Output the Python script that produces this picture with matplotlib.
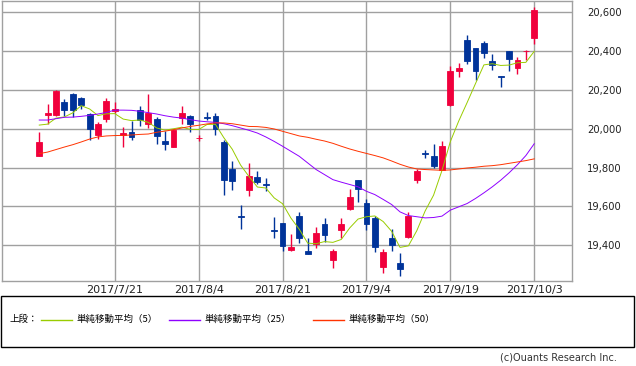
import matplotlib
matplotlib.use("Agg")
import matplotlib.pyplot as plt
from matplotlib.lines import Line2D
from matplotlib.patches import Rectangle
import numpy as np

# -----------------------------
# Data (daily candles, 2017/7/7 - 2017/10/3)
# -----------------------------
dates = [
    "2017/7/7", "2017/7/10", "2017/7/11", "2017/7/12", "2017/7/13", "2017/7/14",
    "2017/7/18", "2017/7/19", "2017/7/20", "2017/7/21", "2017/7/24", "2017/7/25",
    "2017/7/26", "2017/7/27", "2017/7/28", "2017/7/31", "2017/8/1", "2017/8/2",
    "2017/8/3", "2017/8/4", "2017/8/7", "2017/8/8", "2017/8/9", "2017/8/10",
    "2017/8/14", "2017/8/15", "2017/8/16", "2017/8/17", "2017/8/18", "2017/8/21",
    "2017/8/22", "2017/8/23", "2017/8/24", "2017/8/25", "2017/8/28", "2017/8/29",
    "2017/8/30", "2017/8/31", "2017/9/1", "2017/9/4", "2017/9/5", "2017/9/6",
    "2017/9/7", "2017/9/8", "2017/9/11", "2017/9/12", "2017/9/13", "2017/9/14",
    "2017/9/15", "2017/9/19", "2017/9/20", "2017/9/21", "2017/9/22", "2017/9/25",
    "2017/9/26", "2017/9/27", "2017/9/28", "2017/9/29", "2017/10/2", "2017/10/3",
]

opens = [
    19858, 20069, 20072, 20139, 20180, 20160, 20078, 19970, 20048, 20090,
    19968, 19985, 20098, 20026, 20052, 19939, 19908, 20055, 20067, 19952,
    20060, 20067, 19934, 19795, 19550, 19687, 19754, 19713, 19480, 19517,
    19375, 19553, 19372, 19404, 19507, 19324, 19481, 19589, 19738, 19620,
    19538, 19288, 19439, 19307, 19442, 19735, 19875, 19862, 19790, 20122,
    20299, 20458, 20415, 20442, 20350, 20272, 20401, 20315, 20398, 20470,
]
highs = [
    19985, 20129, 20201, 20155, 20185, 20165, 20081, 20036, 20160, 20139,
    20007, 20038, 20119, 20180, 20059, 19987, 19999, 20119, 20072, 19969,
    20088, 20079, 19944, 19836, 19605, 19826, 19780, 19744, 19548, 19517,
    19459, 19570, 19435, 19492, 19543, 19379, 19543, 19692, 19738, 19636,
    19550, 19379, 19485, 19362, 19573, 19792, 19893, 19924, 19939, 20322,
    20340, 20485, 20415, 20453, 20386, 20274, 20401, 20372, 20405, 20629,
]
lows = [
    19858, 20026, 20067, 20064, 20060, 20101, 19940, 19946, 20033, 20081,
    19905, 19940, 20016, 20004, 19923, 19893, 19908, 20023, 19985, 19935,
    20043, 19969, 19661, 19687, 19485, 19656, 19718, 19678, 19435, 19370,
    19370, 19411, 19355, 19387, 19418, 19283, 19435, 19584, 19622, 19481,
    19363, 19257, 19370, 19241, 19437, 19720, 19848, 19799, 19786, 20118,
    20268, 20331, 20249, 20367, 20301, 20213, 20296, 20284, 20355, 20436,
]
closes = [
    19934, 20083, 20197, 20098, 20098, 20120, 19997, 20026, 20144, 20103,
    19980, 19956, 20043, 20081, 19961, 19923, 19992, 20083, 20026, 19955,
    20055, 19997, 19738, 19730, 19547, 19759, 19728, 19710, 19476, 19396,
    19389, 19437, 19355, 19461, 19452, 19368, 19512, 19651, 19692, 19511,
    19391, 19363, 19401, 19279, 19553, 19780, 19872, 19807, 19913, 20297,
    20313, 20347, 20295, 20392, 20326, 20269, 20360, 20355, 20400, 20612,
]

# moving averages as drawn on the chart
ma5 = [
    20019, 20024, 20055, 20061, 20082, 20119, 20102, 20068, 20077, 20078,
    20050, 20042, 20045, 20033, 20004, 19993, 20000, 20008, 19997, 19996,
    20022, 20023, 19954, 19895, 19813, 19754, 19700, 19695, 19644, 19614,
    19540, 19482, 19411, 19408, 19419, 19415, 19430, 19489, 19535, 19547,
    19551, 19522, 19472, 19389, 19397, 19475, 19577, 19658, 19785, 19934,
    20040, 20135, 20233, 20329, 20335, 20326, 20328, 20340, 20342, 20399,
]
ma25 = [
    20045, 20045, 20052, 20059, 20060, 20064, 20069, 20076, 20084, 20096,
    20096, 20095, 20090, 20083, 20076, 20067, 20060, 20055, 20047, 20040,
    20036, 20033, 20026, 20016, 20004, 19992, 19978, 19958, 19935, 19910,
    19884, 19858, 19824, 19790, 19764, 19738, 19725, 19713, 19701, 19678,
    19661, 19636, 19610, 19572, 19553, 19547, 19541, 19543, 19550, 19581,
    19598, 19615, 19641, 19670, 19701, 19735, 19773, 19815, 19862, 19923,
]
ma50 = [
    19872, 19880, 19893, 19906, 19918, 19932, 19947, 19958, 19963, 19965,
    19966, 19968, 19971, 19973, 19982, 19988, 19995, 20004, 20012, 20018,
    20025, 20030, 20030, 20026, 20019, 20012, 20011, 20007, 19999, 19987,
    19975, 19963, 19956, 19946, 19937, 19925, 19910, 19896, 19884, 19873,
    19862, 19850, 19834, 19817, 19803, 19793, 19790, 19788, 19786, 19788,
    19793, 19798, 19802, 19807, 19810, 19815, 19822, 19829, 19836, 19845,
]

ma_labels = ["単純移動平均（5）", "単純移動平均（25）", "単純移動平均（50）"]

# -----------------------------
# Styles
# -----------------------------
UP = "#f0003c"
DOWN = "#003399"
MA_COLORS = ["#99cc00", "#8f00ff", "#ff3300"]
GRID = "#a0a0a0"
W, H = 636, 366


def fx(px):
    return px / W


def fy(py):
    return 1 - py / H


def main() -> int:
    fig = plt.figure(figsize=(W / 100, H / 100), dpi=100)
    ax = fig.add_axes([fx(1.5), fy(281), fx(572) - fx(1.5), fy(1) - fy(281)])

    x = np.arange(len(dates))
    o = np.array(opens)
    c = np.array(closes)
    colors = [UP if cc >= oo else DOWN for oo, cc in zip(o, c)]

    # wicks + bodies
    ax.vlines(x, lows, highs, colors=colors, linewidth=1, zorder=3)
    ax.bar(x, np.abs(c - o), bottom=np.minimum(o, c), width=0.7,
           color=colors, edgecolor=colors, linewidth=0.6, zorder=4)

    # moving averages (thin lines)
    for ma, col in zip([ma5, ma25, ma50], MA_COLORS):
        ax.plot(x, ma, color=col, linewidth=0.7, zorder=5)

    ax.set_xlim(-4.5, len(dates) - 1 + 4.5)
    ax.set_ylim(19216, 20658)

    tick_idx = list(range(9, len(dates), 10))
    ax.set_xticks(tick_idx)
    ax.set_xticklabels([dates[i] for i in tick_idx], fontsize=8)
    yt = list(range(19400, 20601, 200))
    ax.set_yticks(yt)
    ax.set_yticklabels([f"{v:,}" for v in yt], fontsize=7.2)
    ax.yaxis.tick_right()
    ax.tick_params(axis="both", length=0, colors="#222222")
    ax.tick_params(axis="y", pad=11)
    ax.tick_params(axis="x", pad=3)

    ax.grid(True, color=GRID, linewidth=1)
    ax.set_axisbelow(True)
    for sp in ax.spines.values():
        sp.set_color(GRID)
        sp.set_linewidth(1)

    # -----------------------------
    # Legend box
    # -----------------------------
    cjk = ["Noto Sans CJK JP", "DejaVu Sans"]
    fig.patches.append(Rectangle((fx(1), fy(347)), fx(634) - fx(1), fy(296) - fy(347),
                                 transform=fig.transFigure, fill=False,
                                 edgecolor="black", linewidth=1))
    ly = fy(319.5)
    fig.text(fx(9), ly, "上段：", family=cjk, fontsize=6.8, va="center", ha="left")
    starts = [41, 169, 313]
    for s, col, lab in zip(starts, MA_COLORS, ma_labels):
        fig.add_artist(Line2D([fx(s), fx(s + 31)], [ly, ly], color=col, linewidth=1,
                              transform=fig.transFigure))
        fig.text(fx(s + 35.5), ly, lab, family=cjk, fontsize=6.8, va="center", ha="left")

    fig.text(fx(617), fy(358), "(c)Ouants Research Inc.", fontsize=7, color="#333333",
             va="center", ha="right")

    fig.savefig("out.png", dpi=100)
    plt.close(fig)
    return 0


if __name__ == "__main__":
    raise SystemExit(main())
